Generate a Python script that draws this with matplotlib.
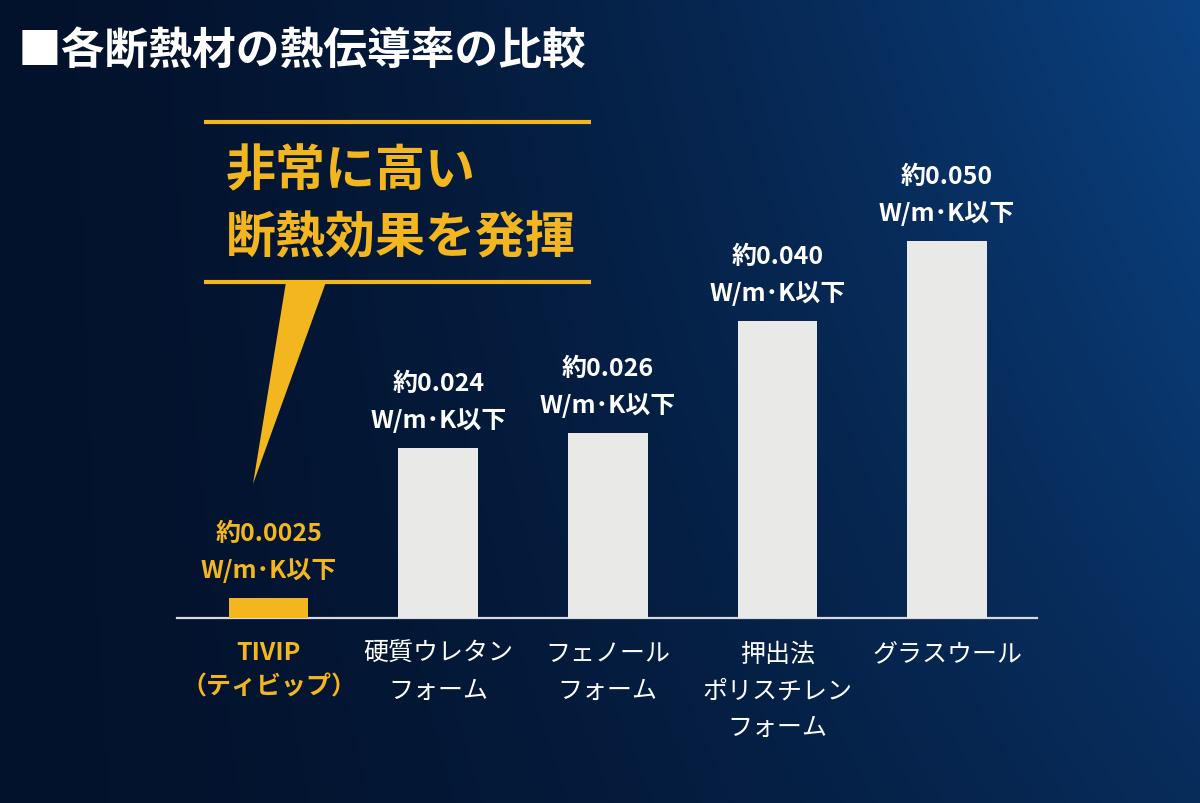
import numpy as np
import matplotlib
matplotlib.use('Agg')
import matplotlib.pyplot as plt
from matplotlib.patches import Polygon

plt.rcParams['font.family'] = ['Noto Sans CJK JP', 'DejaVu Sans']

# ----- data (bar heights)
categories = ['TIVIP\n（ティビップ）', '硬質ウレタン\nフォーム', 'フェノール\nフォーム',
              '押出法\nポリスチレン\nフォーム', 'グラスウール']
heights = [0.0027, 0.0226, 0.0246, 0.0394, 0.050]
value_labels = ['約0.0025', '約0.024', '約0.026', '約0.040', '約0.050']
unit_label = 'W/m･K以下'

yellow = '#f3b61f'
bar_white = '#e9e9e7'

W, H = 1200, 804
fig = plt.figure(figsize=(12, 8.04), dpi=100)

# ----- background gradient
bg = fig.add_axes([0, 0, 1, 1], zorder=-2)
xx, yy = np.meshgrid(np.linspace(0, 1, 300), np.linspace(0, 1, 200))
t = (xx ** 1.6) * (1 - 0.45 * yy)
dark = np.array([3, 18, 44]) / 255
bright = np.array([11, 66, 130]) / 255
img = dark[None, None, :] + t[..., None] * (bright - dark)[None, None, :]
bg.imshow(img, aspect='auto', extent=[0, 1, 0, 1], origin='upper')
bg.axis('off')

# ----- bar chart
ax = fig.add_axes([177 / W, 1 - 619 / H, (1037 - 177) / W, (619 - 242) / H])
ax.set_facecolor('none')
x = np.arange(len(categories))
colors = [yellow] + [bar_white] * (len(categories) - 1)
ax.bar(x, heights, width=0.47, color=colors, zorder=3)
ax.set_xlim(-0.54, 4.53)
ax.set_ylim(0, 0.050)

for s in ['top', 'right', 'left']:
    ax.spines[s].set_visible(False)
ax.spines['bottom'].set_color('#d9dadf')
ax.spines['bottom'].set_linewidth(1.6)
ax.set_yticks([])
ax.set_xticks(x)
ax.set_xticklabels(categories, fontsize=18, color='white', linespacing=1.55)
ax.tick_params(axis='x', length=0, pad=16)
lbls = ax.get_xticklabels()
lbls[0].set_color(yellow)
lbls[0].set_fontweight('bold')

for i, (h, v) in enumerate(zip(heights, value_labels)):
    c = yellow if i == 0 else 'white'
    ax.annotate(v + '\n' + unit_label, (i, h), xytext=(0, 15), textcoords='offset points',
                ha='center', va='baseline', fontsize=18, fontweight='bold', color=c,
                linespacing=1.6)

# ----- overlay: title and callout
ov = fig.add_axes([0, 0, 1, 1], zorder=5)
ov.set_xlim(0, W)
ov.set_ylim(H, 0)
ov.axis('off')
ov.patch.set_visible(False)

ov.text(18, 51, '■各断熱材の熱伝導率の比較', fontsize=31.5, fontweight='bold',
        color='white', ha='left', va='center')

ov.plot([204, 591], [123, 123], color=yellow, lw=3, solid_capstyle='butt')
ov.plot([204, 591], [283, 283], color=yellow, lw=3, solid_capstyle='butt')
ov.add_patch(Polygon([[286, 283], [326, 283], [253, 485]], closed=True,
                     facecolor=yellow, edgecolor='none'))
ov.text(226, 172, '非常に高い', fontsize=36, fontweight='bold', color=yellow,
        ha='left', va='center')
ov.text(226, 239, '断熱効果を発揮', fontsize=36, fontweight='bold', color=yellow,
        ha='left', va='center')

fig.savefig('out.png', dpi=100)
